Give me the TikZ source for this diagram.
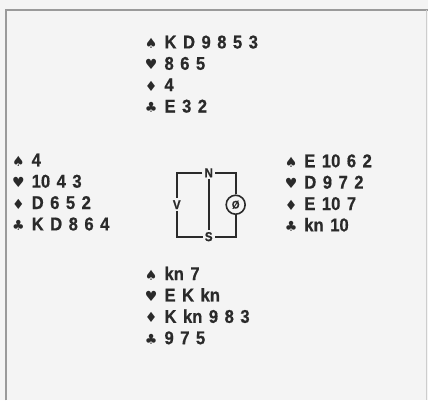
\documentclass[tikz,border=0pt]{standalone}
\usepackage{fontspec}
\setmainfont{Liberation Sans}
\newfontfamily\suitfont{DejaVu Sans}
\newfontfamily\cardface{Liberation Sans Bold}[FakeBold=0.6, FakeStretch=0.9]
\usetikzlibrary{positioning}
\definecolor{ink}{HTML}{2A2A2A}
\definecolor{paper}{HTML}{F4F4F4}
\definecolor{framegray}{HTML}{9A9A9A}
\newcommand{\suit}[1]{{\suitfont\fontsize{14}{14}\selectfont #1}\hspace{7pt}}
\newcommand{\cardfont}{\cardface\fontsize{18.5}{20}\selectfont\spaceskip=6.5pt\relax}

\begin{document}
\begin{tikzpicture}[
    x=1pt, y=-1pt,
    row/.style={anchor=west, inner xsep=0pt, inner ysep=0pt, minimum height=21pt, text height=13pt, text depth=0pt, font=\cardfont, text=ink},
    below row/.style={row, below=0pt of #1.south west, anchor=north west},
    compass/.style={draw=ink, line width=2pt},
    letter/.style={inner sep=2pt, font=\cardface\fontsize{13}{13}\selectfont, text=ink}
]

% background and frame
\fill[paper] (0,0) rectangle (429,401);
\draw[framegray, line width=1.2pt] (6,401) -- (6,10) -- (429,10);
\draw[framegray!50, line width=0.8pt] (427,10) -- (427,401);

% North
\node[row] (n1) at (145,42) {\suit{♠}K D 9 8 5 3};
\node[below row=n1] (n2) {\suit{♥}8 6 5};
\node[below row=n2] (n3) {\suit{♦}4};
\node[below row=n3] (n4) {\suit{♣}E 3 2};

% West
\node[row] (w1) at (12,160) {\suit{♠}4};
\node[below row=w1] (w2) {\suit{♥}10 4 3};
\node[below row=w2] (w3) {\suit{♦}D 6 5 2};
\node[below row=w3] (w4) {\suit{♣}K D 8 6 4};

% East
\node[row] (e1) at (285,161) {\suit{♠}E 10 6 2};
\node[below row=e1] (e2) {\suit{♥}D 9 7 2};
\node[below row=e2] (e3) {\suit{♦}E 10 7};
\node[below row=e3] (e4) {\suit{♣}kn 10};

% South
\node[row] (s1) at (145,274) {\suit{♠}kn 7};
\node[below row=s1] (s2) {\suit{♥}E K kn};
\node[below row=s2] (s3) {\suit{♦}K kn 9 8 3};
\node[below row=s3] (s4) {\suit{♣}9 7 5};

% compass
\node[letter] (cn) at (209,173) {N};
\node[letter] (cs) at (209,237) {S};
\node[letter] (cv) at (177,205) {V};
\node[draw=ink, line width=1.6pt, circle, minimum size=19pt, inner sep=0pt, font=\cardface\fontsize{11}{11}\selectfont, text=ink] (co) at (236,205) {Ø};
\draw[compass] (cn.west) -| (cv.north);
\draw[compass] (cv.south) |- (cs.west);
\draw[compass] (cn.east) -| (co.north);
\draw[compass] (co.south) |- (cs.east);
\draw[compass] (cn) -- (cs);

\end{tikzpicture}
\end{document}
